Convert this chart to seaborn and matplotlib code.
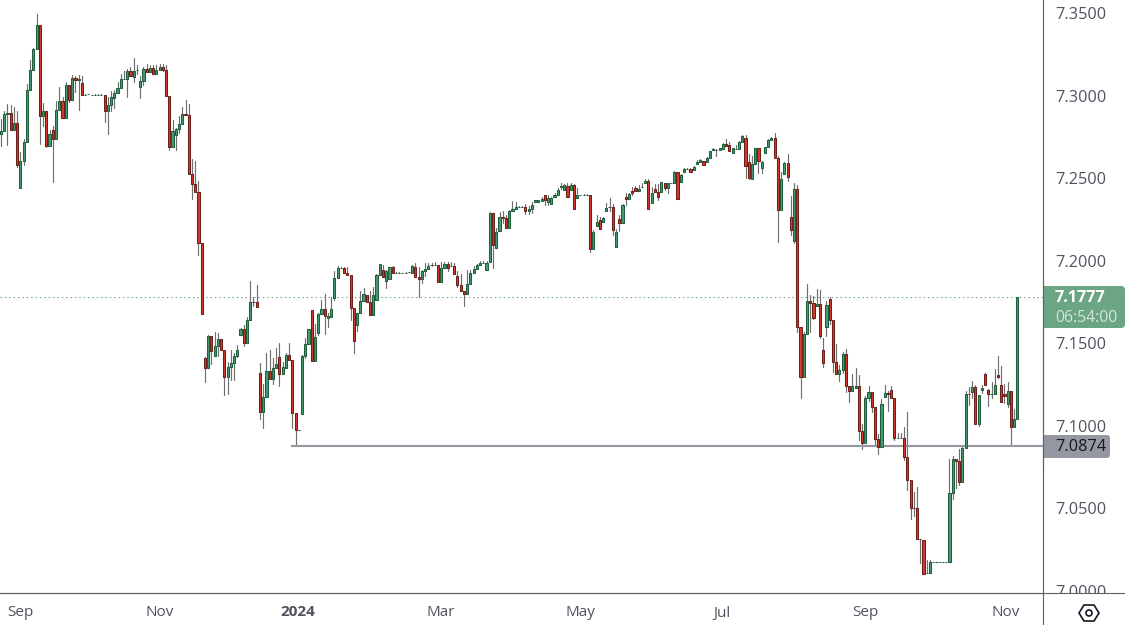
import matplotlib

matplotlib.use("Agg")

import matplotlib.pyplot as plt
import pandas as pd
import seaborn as sns
from matplotlib.patches import FancyBboxPatch, Circle, Polygon, Rectangle

# daily candles, left to right
opens = [
    7.2768, 7.2786, 7.2889, 7.2895, 7.2794, 7.2835, 7.2441, 7.2604, 7.2719, 7.3035,
    7.3156, 7.3283, 7.3428, 7.2877, 7.2907, 7.2695, 7.2792, 7.2738, 7.2913, 7.2968,
    7.2865, 7.3065, 7.2974, 7.3107, 7.3097, 7.3077, 7.3004, 7.3009, 7.3003, 7.3004,
    7.3004, 7.3004, 7.3004, 7.2907, 7.2944, 7.2986, 7.3016, 7.3047, 7.3100, 7.3101,
    7.3150, 7.3113, 7.3155, 7.3053, 7.3089, 7.3162, 7.3144, 7.3168, 7.3132, 7.3156,
    7.3174, 7.3156, 7.2998, 7.2689, 7.2762, 7.2798, 7.2829, 7.2889, 7.2883, 7.2526,
    7.2465, 7.2416, 7.2107, 7.1410, 7.1350, 7.1544, 7.1422, 7.1483, 7.1525, 7.1459,
    7.1295, 7.1356, 7.1380, 7.1420, 7.1550, 7.1586, 7.1501, 7.1641, 7.1750, 7.1750,
    7.1319, 7.1083, 7.1174, 7.1332, 7.1283, 7.1348, 7.1416, 7.1311, 7.1350, 7.1428,
    7.1398, 7.1077, 7.0974, 7.1071, 7.1422, 7.1495, 7.1701, 7.1392, 7.1562, 7.1677,
    7.1707, 7.1653, 7.1659, 7.1774, 7.1895, 7.1956, 7.1956, 7.1925, 7.1913, 7.1713,
    7.1610, 7.1683, 7.1756, 7.1792, 7.1750, 7.1671, 7.1762, 7.1913, 7.1944, 7.1877,
    7.1889, 7.1962, 7.1925, 7.1925, 7.1925, 7.1925, 7.1931, 7.1925, 7.1962, 7.1901,
    7.1889, 7.1938, 7.1950, 7.1972, 7.1974, 7.1974, 7.1869, 7.1955, 7.1980, 7.1966,
    7.1968, 7.1907, 7.1850, 7.1814, 7.1796, 7.1859, 7.1925, 7.1949, 7.1974, 7.1986,
    7.1943, 7.1992, 7.2289, 7.2077, 7.2180, 7.2265, 7.2258, 7.2198, 7.2301, 7.2313,
    7.2325, 7.2325, 7.2325, 7.2299, 7.2313, 7.2355, 7.2355, 7.2362, 7.2396, 7.2355,
    7.2343, 7.2386, 7.2398, 7.2448, 7.2428, 7.2452, 7.2428, 7.2458, 7.2380, 7.2398,
    7.2398, 7.2398, 7.2398, 7.2071, 7.2210, 7.2246, 7.2234, 7.2301, 7.2325, 7.2325,
    7.2083, 7.2252, 7.2228, 7.2386, 7.2374, 7.2422, 7.2440, 7.2422, 7.2446, 7.2471,
    7.2483, 7.2349, 7.2434, 7.2416, 7.2416, 7.2471, 7.2440, 7.2471, 7.2471, 7.2537,
    7.2477, 7.2537, 7.2555, 7.2555, 7.2549, 7.2586, 7.2598, 7.2605, 7.2598, 7.2623,
    7.2671, 7.2671, 7.2671, 7.2677, 7.2708, 7.2701, 7.2653, 7.2677, 7.2677, 7.2720,
    7.2744, 7.2598, 7.2495, 7.2586, 7.2683, 7.2562, 7.2653, 7.2689, 7.2732, 7.2744,
    7.2623, 7.2308, 7.2526, 7.2592, 7.2265, 7.2120, 7.2435, 7.1599, 7.1296, 7.1556,
    7.1756, 7.1744, 7.1726, 7.1738, 7.1459, 7.1599, 7.1768, 7.1641, 7.1386, 7.1314,
    7.1338, 7.1435, 7.1241, 7.1211, 7.1229, 7.1241, 7.0968, 7.0895, 7.1168, 7.1204,
    7.1113, 7.0919, 7.0871, 7.1174, 7.1198, 7.1216, 7.1168, 7.0925, 7.0925, 7.0925,
    7.0810, 7.0671, 7.0501, 7.0501, 7.0313, 7.0307, 7.0105, 7.0107, 7.0174, 7.0174,
    7.0174, 7.0174, 7.0174, 7.0174, 7.0592, 7.0798, 7.0786, 7.0659, 7.0865, 7.1192,
    7.1204, 7.1235, 7.1010, 7.1216, 7.1313, 7.1216, 7.1190, 7.1192, 7.1307, 7.1247,
    7.1192, 7.1132, 7.1210, 7.0992, 7.1041,
]
highs = [
    7.2861, 7.2909, 7.2952, 7.2946, 7.2934, 7.2909, 7.2659, 7.2738, 7.3073, 7.3214,
    7.3289, 7.3497, 7.3428, 7.2958, 7.2907, 7.2794, 7.2814, 7.2970, 7.3055, 7.2994,
    7.3085, 7.3065, 7.3125, 7.3121, 7.3127, 7.3121, 7.3010, 7.3012, 7.3007, 7.3011,
    7.3012, 7.3012, 7.3004, 7.2992, 7.3031, 7.3037, 7.3085, 7.3132, 7.3152, 7.3164,
    7.3176, 7.3231, 7.3186, 7.3121, 7.3174, 7.3194, 7.3188, 7.3186, 7.3188, 7.3194,
    7.3194, 7.3188, 7.2998, 7.2855, 7.2804, 7.2875, 7.2934, 7.2976, 7.2952, 7.2618,
    7.2606, 7.2485, 7.2107, 7.1416, 7.1552, 7.1544, 7.1570, 7.1562, 7.1525, 7.1459,
    7.1388, 7.1459, 7.1441, 7.1491, 7.1592, 7.1610, 7.1661, 7.1879, 7.1780, 7.1855,
    7.1382, 7.1255, 7.1439, 7.1459, 7.1410, 7.1473, 7.1499, 7.1386, 7.1441, 7.1499,
    7.1398, 7.1077, 7.0976, 7.1428, 7.1534, 7.1586, 7.1701, 7.1618, 7.1683, 7.1764,
    7.1798, 7.1683, 7.1780, 7.1938, 7.1970, 7.1962, 7.1964, 7.1964, 7.1913, 7.1713,
    7.1683, 7.1818, 7.1832, 7.1792, 7.1818, 7.1843, 7.1919, 7.1980, 7.1976, 7.1944,
    7.1962, 7.1970, 7.1931, 7.1931, 7.1927, 7.1931, 7.1931, 7.1974, 7.1986, 7.1962,
    7.1944, 7.1986, 7.1986, 7.1986, 7.1992, 7.1974, 7.1992, 7.1992, 7.1992, 7.1992,
    7.1986, 7.1937, 7.1919, 7.1814, 7.1943, 7.1943, 7.1968, 7.1980, 7.1998, 7.1998,
    7.1998, 7.2295, 7.2289, 7.2198, 7.2295, 7.2301, 7.2277, 7.2307, 7.2362, 7.2355,
    7.2331, 7.2331, 7.2343, 7.2331, 7.2355, 7.2366, 7.2366, 7.2386, 7.2396, 7.2398,
    7.2386, 7.2410, 7.2440, 7.2471, 7.2465, 7.2471, 7.2471, 7.2465, 7.2440, 7.2400,
    7.2404, 7.2404, 7.2398, 7.2186, 7.2277, 7.2265, 7.2265, 7.2349, 7.2380, 7.2343,
    7.2192, 7.2277, 7.2343, 7.2410, 7.2410, 7.2446, 7.2452, 7.2458, 7.2471, 7.2495,
    7.2495, 7.2446, 7.2465, 7.2465, 7.2477, 7.2471, 7.2471, 7.2473, 7.2543, 7.2537,
    7.2525, 7.2561, 7.2561, 7.2561, 7.2574, 7.2608, 7.2617, 7.2605, 7.2629, 7.2665,
    7.2683, 7.2677, 7.2683, 7.2714, 7.2738, 7.2720, 7.2683, 7.2701, 7.2726, 7.2762,
    7.2762, 7.2647, 7.2635, 7.2683, 7.2683, 7.2605, 7.2689, 7.2738, 7.2750, 7.2774,
    7.2635, 7.2538, 7.2598, 7.2649, 7.2394, 7.2471, 7.2459, 7.1599, 7.1568, 7.1861,
    7.1792, 7.1786, 7.1831, 7.1823, 7.1532, 7.1756, 7.1780, 7.1641, 7.1496, 7.1368,
    7.1447, 7.1465, 7.1241, 7.1314, 7.1350, 7.1309, 7.1010, 7.1180, 7.1241, 7.1204,
    7.1113, 7.0952, 7.1162, 7.1247, 7.1210, 7.1241, 7.1168, 7.0956, 7.0956, 7.0994,
    7.1085, 7.0671, 7.0598, 7.0629, 7.0313, 7.0307, 7.0186, 7.0186, 7.0176, 7.0176,
    7.0176, 7.0176, 7.0176, 7.0798, 7.0816, 7.0798, 7.0859, 7.0883, 7.1210, 7.1235,
    7.1271, 7.1247, 7.1186, 7.1247, 7.1319, 7.1222, 7.1265, 7.1346, 7.1422, 7.1362,
    7.1253, 7.1265, 7.1210, 7.1101, 7.1783,
]
lows = [
    7.2693, 7.2786, 7.2699, 7.2794, 7.2794, 7.2566, 7.2441, 7.2578, 7.2719, 7.3035,
    7.3156, 7.3283, 7.2709, 7.2816, 7.2687, 7.2695, 7.2475, 7.2738, 7.2913, 7.2865,
    7.2865, 7.2964, 7.2974, 7.3020, 7.2915, 7.3004, 7.3003, 7.3009, 7.3003, 7.3004,
    7.3004, 7.3004, 7.2839, 7.2766, 7.2907, 7.2923, 7.3016, 7.3047, 7.3100, 7.2990,
    7.3119, 7.3081, 7.3134, 7.2984, 7.3067, 7.3144, 7.3144, 7.3132, 7.3132, 7.3156,
    7.3150, 7.2998, 7.2669, 7.2689, 7.2669, 7.2772, 7.2829, 7.2883, 7.2526, 7.2376,
    7.2416, 7.2032, 7.1677, 7.1263, 7.1350, 7.1372, 7.1422, 7.1424, 7.1459, 7.1184,
    7.1190, 7.1279, 7.1279, 7.1414, 7.1550, 7.1481, 7.1501, 7.1641, 7.1723, 7.1719,
    7.1043, 7.0984, 7.1174, 7.1283, 7.1255, 7.1348, 7.1239, 7.1311, 7.1350, 7.1398,
    7.0986, 7.0874, 7.0973, 7.1071, 7.1408, 7.1495, 7.1392, 7.1392, 7.1550, 7.1677,
    7.1554, 7.1596, 7.1659, 7.1762, 7.1895, 7.1956, 7.1925, 7.1913, 7.1639, 7.1439,
    7.1572, 7.1683, 7.1756, 7.1750, 7.1671, 7.1671, 7.1762, 7.1913, 7.1901, 7.1832,
    7.1889, 7.1925, 7.1925, 7.1925, 7.1925, 7.1925, 7.1929, 7.1925, 7.1901, 7.1780,
    7.1863, 7.1909, 7.1950, 7.1968, 7.1972, 7.1871, 7.1869, 7.1955, 7.1939, 7.1966,
    7.1917, 7.1838, 7.1814, 7.1723, 7.1796, 7.1859, 7.1925, 7.1949, 7.1974, 7.1986,
    7.1943, 7.1992, 7.1953, 7.2077, 7.2180, 7.2228, 7.2198, 7.2198, 7.2301, 7.2313,
    7.2325, 7.2325, 7.2281, 7.2281, 7.2287, 7.2355, 7.2355, 7.2362, 7.2335, 7.2337,
    7.2343, 7.2386, 7.2398, 7.2434, 7.2428, 7.2386, 7.2428, 7.2313, 7.2380, 7.2398,
    7.2398, 7.2398, 7.2050, 7.2071, 7.2210, 7.2192, 7.2234, 7.2301, 7.2303, 7.2153,
    7.2083, 7.2178, 7.2228, 7.2335, 7.2374, 7.2398, 7.2422, 7.2422, 7.2446, 7.2471,
    7.2313, 7.2349, 7.2416, 7.2368, 7.2416, 7.2430, 7.2408, 7.2471, 7.2471, 7.2374,
    7.2477, 7.2537, 7.2555, 7.2537, 7.2549, 7.2586, 7.2598, 7.2580, 7.2598, 7.2623,
    7.2671, 7.2635, 7.2671, 7.2677, 7.2695, 7.2665, 7.2653, 7.2677, 7.2677, 7.2720,
    7.2499, 7.2493, 7.2495, 7.2586, 7.2530, 7.2532, 7.2653, 7.2689, 7.2732, 7.2623,
    7.2114, 7.2308, 7.2526, 7.2481, 7.2154, 7.2108, 7.1568, 7.1168, 7.1296, 7.1556,
    7.1568, 7.1647, 7.1726, 7.1532, 7.1356, 7.1542, 7.1617, 7.1324, 7.1314, 7.1271,
    7.1320, 7.1205, 7.1144, 7.1211, 7.1229, 7.0915, 7.0857, 7.0895, 7.1150, 7.1081,
    7.0881, 7.0829, 7.0871, 7.1174, 7.1087, 7.1168, 7.0911, 7.0925, 7.0925, 7.0792,
    7.0608, 7.0435, 7.0451, 7.0313, 7.0166, 7.0101, 7.0105, 7.0107, 7.0174, 7.0174,
    7.0174, 7.0174, 7.0174, 7.0174, 7.0556, 7.0622, 7.0641, 7.0659, 7.0865, 7.1123,
    7.1168, 7.1010, 7.0996, 7.1198, 7.1247, 7.1117, 7.1166, 7.1192, 7.1289, 7.1144,
    7.1138, 7.1113, 7.0874, 7.0992, 7.1041,
]
closes = [
    7.2786, 7.2889, 7.2895, 7.2794, 7.2835, 7.2578, 7.2604, 7.2719, 7.3035, 7.3156,
    7.3283, 7.3428, 7.2877, 7.2907, 7.2695, 7.2768, 7.2738, 7.2913, 7.2968, 7.2865,
    7.3065, 7.2974, 7.3107, 7.3095, 7.3101, 7.3004, 7.3006, 7.3011, 7.3005, 7.3006,
    7.3006, 7.3006, 7.2907, 7.2944, 7.2992, 7.3016, 7.3047, 7.3101, 7.3101, 7.3150,
    7.3119, 7.3150, 7.3156, 7.3089, 7.3162, 7.3144, 7.3168, 7.3132, 7.3156, 7.3174,
    7.3156, 7.2998, 7.2689, 7.2786, 7.2798, 7.2829, 7.2889, 7.2883, 7.2526, 7.2465,
    7.2416, 7.2107, 7.1677, 7.1350, 7.1544, 7.1451, 7.1483, 7.1525, 7.1459, 7.1295,
    7.1356, 7.1380, 7.1420, 7.1459, 7.1586, 7.1501, 7.1641, 7.1750, 7.1748, 7.1719,
    7.1083, 7.1174, 7.1332, 7.1283, 7.1348, 7.1374, 7.1311, 7.1356, 7.1428, 7.1398,
    7.1077, 7.0974, 7.0975, 7.1422, 7.1495, 7.1586, 7.1392, 7.1538, 7.1677, 7.1707,
    7.1665, 7.1665, 7.1707, 7.1895, 7.1956, 7.1957, 7.1925, 7.1913, 7.1713, 7.1511,
    7.1683, 7.1756, 7.1798, 7.1750, 7.1671, 7.1792, 7.1913, 7.1980, 7.1901, 7.1938,
    7.1962, 7.1925, 7.1927, 7.1927, 7.1927, 7.1927, 7.1929, 7.1968, 7.1901, 7.1889,
    7.1938, 7.1950, 7.1968, 7.1974, 7.1972, 7.1871, 7.1955, 7.1980, 7.1955, 7.1968,
    7.1917, 7.1850, 7.1814, 7.1796, 7.1859, 7.1925, 7.1949, 7.1974, 7.1986, 7.1988,
    7.1986, 7.2289, 7.2095, 7.2174, 7.2265, 7.2258, 7.2198, 7.2301, 7.2313, 7.2325,
    7.2327, 7.2327, 7.2299, 7.2313, 7.2337, 7.2366, 7.2366, 7.2374, 7.2366, 7.2380,
    7.2380, 7.2398, 7.2428, 7.2450, 7.2456, 7.2386, 7.2458, 7.2313, 7.2398, 7.2399,
    7.2400, 7.2400, 7.2071, 7.2174, 7.2234, 7.2192, 7.2258, 7.2319, 7.2327, 7.2186,
    7.2174, 7.2228, 7.2337, 7.2374, 7.2404, 7.2410, 7.2422, 7.2434, 7.2448, 7.2483,
    7.2313, 7.2410, 7.2416, 7.2386, 7.2477, 7.2440, 7.2471, 7.2473, 7.2537, 7.2374,
    7.2519, 7.2555, 7.2557, 7.2537, 7.2568, 7.2598, 7.2611, 7.2580, 7.2623, 7.2665,
    7.2677, 7.2669, 7.2683, 7.2708, 7.2695, 7.2665, 7.2683, 7.2679, 7.2720, 7.2756,
    7.2574, 7.2501, 7.2586, 7.2683, 7.2605, 7.2598, 7.2689, 7.2732, 7.2744, 7.2623,
    7.2308, 7.2495, 7.2592, 7.2508, 7.2186, 7.2435, 7.1599, 7.1296, 7.1556, 7.1756,
    7.1744, 7.1653, 7.1738, 7.1544, 7.1380, 7.1732, 7.1641, 7.1386, 7.1314, 7.1338,
    7.1435, 7.1241, 7.1211, 7.1241, 7.1241, 7.0968, 7.0895, 7.1168, 7.1204, 7.1113,
    7.0919, 7.0871, 7.1132, 7.1198, 7.1192, 7.1168, 7.0925, 7.0927, 7.0927, 7.0810,
    7.0671, 7.0501, 7.0499, 7.0313, 7.0311, 7.0101, 7.0107, 7.0174, 7.0175, 7.0175,
    7.0175, 7.0175, 7.0175, 7.0592, 7.0798, 7.0786, 7.0659, 7.0865, 7.1192, 7.1190,
    7.1235, 7.1010, 7.1186, 7.1228, 7.1247, 7.1192, 7.1192, 7.1247, 7.1295, 7.1144,
    7.1180, 7.1210, 7.0992, 7.1041, 7.1777,
]

price_ticks = [7.35, 7.30, 7.25, 7.20, 7.15, 7.10, 7.05, 7.00]
date_labels = ["Sep", "Nov", "2024", "Mar", "May", "Jul", "Sep", "Nov"]
date_ticks = [5.9, 49.1, 91.7, 135.9, 179.0, 222.7, 266.9, 310.4]

last_price = 7.1777
support_price = 7.0874
countdown = "06:54:00"

UP_FILL = "#479a72"
UP_EDGE = "#1f5f3d"
DOWN_FILL = "#d03a2a"
DOWN_EDGE = "#6e1f1a"
WICK = "#6f6f6f"
AXIS = "#5d606b"
LABEL = "#50535e"
LAST_GREEN = "#6ba583"
SUPPORT_GREY = "#9598a1"

sns.set_theme(style="white")
plt.rcParams["font.family"] = ["Open Sans", "DejaVu Sans"]

df = pd.DataFrame({"open": opens, "high": highs, "low": lows, "close": closes})
df["bar"] = range(len(df))
df["up"] = df["close"] >= df["open"]
wicks = df.melt(id_vars="bar", value_vars=["low", "high"], value_name="price")

fig = plt.figure(figsize=(11.25, 6.25), dpi=100, facecolor="white")
ax = fig.add_axes([0, 32 / 625, 1043 / 1125, 593 / 625])

sns.lineplot(
    data=wicks, x="bar", y="price", units="bar", estimator=None, sort=False,
    color=WICK, linewidth=0.85, legend=False, ax=ax, zorder=2,
)
ax.bar(
    df["bar"], (df["close"] - df["open"]).abs(), bottom=df[["open", "close"]].min(axis=1),
    width=0.66,
    color=df["up"].map({True: UP_FILL, False: DOWN_FILL}),
    edgecolor=df["up"].map({True: UP_EDGE, False: DOWN_EDGE}),
    linewidth=0.75, zorder=3,
)

ax.axhline(last_price, color=LAST_GREEN, linewidth=0.75, linestyle=(0, (1.4, 2.8)), zorder=1)
ax.hlines(support_price, 89.6, 322, color=SUPPORT_GREY, linewidth=1.5, zorder=2.5)

ax.set_xlim(-0.31, 321.9)
ax.set_ylim(6.99861, 7.35800)
ax.set_xlabel("")
ax.set_ylabel("")
ax.grid(False)

ax.set_xticks(date_ticks)
ax.set_xticklabels(date_labels, fontsize=11, color=LABEL)
ax.get_xticklabels()[2].set_fontweight("bold")
ax.tick_params(axis="x", length=0, pad=9)

ax.yaxis.tick_right()
ax.set_yticks(price_ticks)
ax.set_yticklabels([f"{p:.4f}" for p in price_ticks], fontsize=11.7, color=LABEL)
ax.tick_params(axis="y", length=0, pad=8.5)
for label in ax.get_yticklabels():
    label.set_clip_on(False)

for side in ["top", "left"]:
    ax.spines[side].set_visible(False)
for side in ["right", "bottom"]:
    ax.spines[side].set_color(AXIS)
    ax.spines[side].set_linewidth(0.8)

# overlay in picture pixels for the price tags and the corner furniture
over = fig.add_axes([0, 0, 1, 1], zorder=10, facecolor="none")
over.set_xlim(0, 1125)
over.set_ylim(625, 0)
over.axis("off")

over.add_patch(Rectangle((1044, 594), 81, 31, facecolor="white", edgecolor="none"))
over.plot([0, 1125], [593, 593], color=AXIS, linewidth=0.8)
over.plot([1043, 1043], [593, 625], color=AXIS, linewidth=0.8)


def price_tag(x1, y0, y1, color, radius):
    # square on the axis side, rounded on the outer side
    over.add_patch(FancyBboxPatch(
        (1050, y0), x1 - 1050, y1 - y0, boxstyle=f"round,pad=0,rounding_size={radius}",
        facecolor=color, edgecolor="none",
    ))
    over.add_patch(Rectangle((1043, y0), 12, y1 - y0, facecolor=color, edgecolor="none"))


price_tag(1125, 286, 328, LAST_GREEN, 4)
price_tag(1110, 435, 458, SUPPORT_GREY, 3)
over.plot([1043, 1043], [280, 470], color=AXIS, linewidth=0.8)
over.text(1055, 298, f"{last_price:.4f}", color="white", fontsize=11.7, fontweight="bold", va="center")
over.text(1055, 318, countdown, color="#d5e6db", fontsize=11.3, va="center")
over.text(1055, 447, f"{support_price:.4f}", color="#131722", fontsize=11.7, va="center")

over.add_patch(Polygon(
    [(1079, 613), (1084, 605), (1094, 605), (1099, 613), (1094, 621), (1084, 621)],
    closed=True, facecolor="white", edgecolor="#131722", linewidth=1.2,
))
over.add_patch(Circle((1089, 613), 3, facecolor="white", edgecolor="#131722", linewidth=1.2))

fig.savefig("out.png", dpi=100)
